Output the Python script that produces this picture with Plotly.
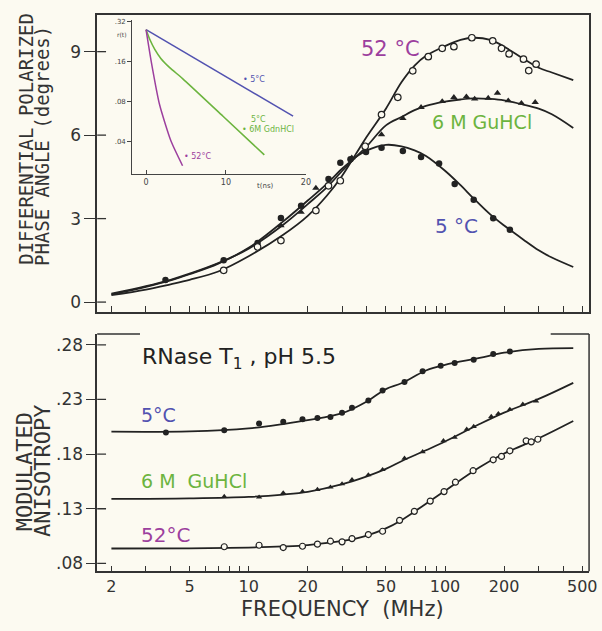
import math
import plotly.graph_objects as go

W, H = 602, 631
BG = "#fcfaf1"
INK = "#222222"
BLUE = "#5252b0"
GREEN = "#6cb43f"
PURPLE = "#9c3f9e"

# ---------------- data: top panel (phase angle, degrees) ----------------
F_CURVE = [2, 3, 4, 5, 7, 10, 15, 20, 25, 30, 35, 40, 50, 60, 70, 80, 100, 120, 140, 170, 200, 250, 300, 350, 450]
TOP_5C_CURVE = [0.28, 0.55, 0.78, 1.0, 1.38, 1.95, 2.9, 3.65, 4.25, 4.8, 5.2, 5.45, 5.65, 5.6, 5.45, 5.25, 4.72, 4.2, 3.72, 3.15, 2.75, 2.25, 1.86, 1.6, 1.26]
TOP_6M_CURVE = [0.3, 0.57, 0.8, 1.02, 1.4, 1.92, 2.78, 3.52, 4.12, 4.72, 5.2, 5.6, 6.35, 6.65, 6.9, 7.05, 7.2, 7.28, 7.32, 7.3, 7.25, 7.1, 6.95, 6.75, 6.26]
TOP_52C_CURVE = [0.25, 0.45, 0.64, 0.8, 1.1, 1.65, 2.42, 3.1, 3.82, 4.55, 5.3, 5.95, 6.95, 7.9, 8.5, 8.85, 9.2, 9.42, 9.5, 9.42, 9.18, 8.75, 8.42, 8.25, 7.98]

TOP_5C_F = [3.77, 7.46, 11.1, 14.6, 18.5, 25.5, 29.3, 33, 39.6, 47.5, 61, 75.5, 93.3, 112, 140, 176, 214]
TOP_5C_Y = [0.79, 1.5, 2.12, 3.02, 3.46, 4.42, 5.01, 5.13, 5.39, 5.55, 5.43, 5.21, 4.98, 4.24, 3.68, 3.01, 2.6]
TOP_6M_F = [14.6, 18.5, 22, 33.5, 47.5, 61, 75.5, 96.8, 111, 128.5, 141.6, 166, 185, 210, 245, 288]
TOP_6M_Y = [2.75, 3.23, 4.1, 5.19, 6.02, 6.6, 7.0, 7.21, 7.36, 7.38, 7.3, 7.33, 7.51, 7.24, 7.15, 7.18]
TOP_52C_F = [7.46, 11.1, 14.6, 22, 25.5, 29.3, 39.2, 47.5, 57.5, 68.5, 82.2, 96.8, 111, 137, 175, 194, 212, 251, 267, 291]
TOP_52C_Y = [1.14, 1.98, 2.21, 3.29, 4.18, 4.36, 5.6, 6.74, 7.36, 8.31, 8.82, 9.12, 9.18, 9.5, 9.39, 9.12, 8.92, 8.73, 8.32, 8.55]

# ---------------- data: bottom panel (modulated anisotropy) ----------------
FB_CURVE = [2, 5, 10, 15, 20, 30, 40, 50, 60, 80, 100, 150, 200, 300, 450]
BOT_5C_CURVE = [0.2005, 0.2008, 0.2035, 0.2075, 0.211, 0.2175, 0.2282, 0.2395, 0.2448, 0.2565, 0.2617, 0.268, 0.2728, 0.2762, 0.277]
BOT_6M_CURVE = [0.139, 0.1395, 0.1408, 0.143, 0.1455, 0.1525, 0.1597, 0.1665, 0.1735, 0.1835, 0.1915, 0.2075, 0.218, 0.2305, 0.2452]
BOT_52C_CURVE = [0.0936, 0.0938, 0.0945, 0.0955, 0.0968, 0.1005, 0.1055, 0.112, 0.1195, 0.1345, 0.1465, 0.168, 0.1805, 0.1945, 0.2103]

BOT_5C_F = [3.79, 7.51, 11.3, 15.0, 18.8, 22.4, 26.1, 29.9, 33.6, 40.7, 48.1, 62.2, 76.9, 95.1, 112, 140, 176, 214]
BOT_5C_Y = [0.1997, 0.2018, 0.2079, 0.2097, 0.2118, 0.213, 0.2139, 0.2179, 0.2224, 0.229, 0.2382, 0.246, 0.2557, 0.2609, 0.2633, 0.2664, 0.2715, 0.2739]
BOT_6M_F = [7.51, 11.3, 15.0, 18.8, 22.4, 26.1, 29.9, 33.6, 40.7, 48.1, 62.2, 76.9, 98.2, 112, 129, 140, 172, 187, 214, 249, 291]
BOT_6M_Y = [0.1412, 0.1406, 0.1445, 0.1457, 0.1475, 0.1497, 0.1527, 0.1566, 0.1609, 0.1657, 0.1761, 0.1821, 0.1921, 0.1952, 0.2027, 0.2052, 0.2143, 0.217, 0.2209, 0.2255, 0.2285]
BOT_52C_F = [7.51, 11.3, 15.0, 18.8, 22.4, 26.1, 29.9, 33.6, 40.7, 48.1, 58.7, 69.8, 84.1, 98.9, 113, 139, 176, 194, 214, 259, 275, 297]
BOT_52C_Y = [0.0952, 0.0966, 0.0945, 0.0957, 0.0976, 0.1003, 0.0997, 0.1027, 0.1064, 0.1094, 0.1194, 0.1276, 0.137, 0.1457, 0.1543, 0.1648, 0.1748, 0.1779, 0.183, 0.1921, 0.1912, 0.1936]

# ---------------- data: inset r(t) ----------------
INSET_5C_T = [0, 18.4]
INSET_5C_R = [0.279, 0.0617]
INSET_6M_T = [0, 0.49, 1.11, 1.85, 2.96, 4.57, 9.63, 14.8]
INSET_6M_R = [0.279, 0.234, 0.197, 0.169, 0.144, 0.119, 0.0617, 0.0314]
INSET_52C_T = [0, 0.65, 1.69, 3.12, 4.57]
INSET_52C_R = [0.279, 0.16, 0.0756, 0.040, 0.026]

# ---------------- ticks ----------------
X_TICKS = [2, 3, 4, 5, 6, 7, 8, 9, 10, 20, 30, 40, 50, 60, 70, 80, 90, 100, 200, 300, 400, 500]
X_LABELED = {2: "2", 5: "5", 10: "10", 20: "20", 50: "50", 100: "100", 200: "200", 500: "500"}
TOP_YTICKS = [0, 3, 6, 9]
BOT_YTICKS = [0.08, 0.13, 0.18, 0.23, 0.28]
BOT_YTEXT = [".08", ".13", ".18", ".23", ".28"]
INSET_XTICKS = [0, 10, 20]
INSET_YTICKS = [0.04, 0.08, 0.16, 0.32]
INSET_YTEXT = [".04", ".08", ".16", ".32"]


def px(x):
    return x / W


def py(y):
    return 1 - y / H


fig = go.Figure()

curve_style = dict(color=INK, width=1.8, shape="spline", smoothing=1.0)
for yv in (TOP_5C_CURVE, TOP_6M_CURVE, TOP_52C_CURVE):
    fig.add_trace(go.Scatter(x=F_CURVE, y=yv, mode="lines", line=curve_style,
                             xaxis="x", yaxis="y", hoverinfo="skip", showlegend=False))
for yv in (BOT_5C_CURVE, BOT_6M_CURVE, BOT_52C_CURVE):
    fig.add_trace(go.Scatter(x=FB_CURVE, y=yv, mode="lines", line=curve_style,
                             xaxis="x2", yaxis="y2", hoverinfo="skip", showlegend=False))

filled = dict(symbol="circle", size=6.5, color=INK, line=dict(width=0))
tri = dict(symbol="triangle-up", size=6.5, color=INK, line=dict(width=0))
opn = dict(symbol="circle", size=6.5, color=BG, line=dict(width=1.2, color=INK))

fig.add_trace(go.Scatter(x=TOP_5C_F, y=TOP_5C_Y, mode="markers", marker=filled, xaxis="x", yaxis="y", showlegend=False))
fig.add_trace(go.Scatter(x=TOP_6M_F, y=TOP_6M_Y, mode="markers", marker=tri, xaxis="x", yaxis="y", showlegend=False))
fig.add_trace(go.Scatter(x=TOP_52C_F, y=TOP_52C_Y, mode="markers", marker=opn, xaxis="x", yaxis="y", showlegend=False))
fig.add_trace(go.Scatter(x=BOT_5C_F, y=BOT_5C_Y, mode="markers", marker=dict(filled, size=6), xaxis="x2", yaxis="y2", showlegend=False))
fig.add_trace(go.Scatter(x=BOT_6M_F, y=BOT_6M_Y, mode="markers", marker=dict(tri, size=5.5), xaxis="x2", yaxis="y2", showlegend=False))
fig.add_trace(go.Scatter(x=BOT_52C_F, y=BOT_52C_Y, mode="markers", marker=dict(opn, size=6), xaxis="x2", yaxis="y2", showlegend=False))

# inset
fig.add_trace(go.Scatter(x=INSET_5C_T, y=INSET_5C_R, mode="lines", line=dict(color=BLUE, width=1.5),
                         xaxis="x3", yaxis="y3", showlegend=False))
fig.add_trace(go.Scatter(x=INSET_6M_T, y=INSET_6M_R, mode="lines", line=dict(color=GREEN, width=1.6, shape="spline", smoothing=0.6),
                         xaxis="x3", yaxis="y3", showlegend=False))
fig.add_trace(go.Scatter(x=INSET_52C_T, y=INSET_52C_R, mode="lines", line=dict(color=PURPLE, width=1.5, shape="spline", smoothing=0.6),
                         xaxis="x3", yaxis="y3", showlegend=False))

XR = [0.2286, 2.7337]
XDOM = [px(98.5), px(597)]
tickfont = dict(family="DejaVu Sans", size=16, color="#333")

xcommon = dict(type="log", range=XR, domain=XDOM, tickmode="array", tickvals=X_TICKS,
               ticks="inside", ticklen=6, tickwidth=1.3, tickcolor="#333",
               showline=True, linecolor="#333", linewidth=1.5, showgrid=False, zeroline=False)

fig.update_layout(
    width=W, height=H, margin=dict(l=0, r=0, t=0, b=0),
    paper_bgcolor=BG, plot_bgcolor=BG, showlegend=False,
    xaxis=dict(xcommon, anchor="y", showticklabels=False, mirror=True),
    yaxis=dict(range=[-0.357, 10.32], domain=[py(312), py(13)], anchor="x",
               tickmode="array", tickvals=TOP_YTICKS, ticks="outside", ticklen=11, tickwidth=1.3,
               tickcolor="#333", tickfont=dict(tickfont, size=17), showline=True, linecolor="#333",
               linewidth=1.5, mirror=True, showgrid=False, zeroline=False),
    xaxis2=dict(xcommon, anchor="y2", ticktext=[X_LABELED.get(v, "") for v in X_TICKS],
                tickfont=tickfont, showticklabels=True),
    yaxis2=dict(range=[0.0727, 0.29], domain=[py(573), py(334)], anchor="x2",
                tickmode="array", tickvals=BOT_YTICKS, ticktext=BOT_YTEXT, ticks="outside", ticklen=9,
                tickwidth=1.3, tickcolor="#333", tickfont=dict(tickfont, size=17), showline=True,
                linecolor="#333", linewidth=1.5, showgrid=False, zeroline=False),
    xaxis3=dict(range=[-1.73, 20], domain=[px(134), px(310)], anchor="y3", tickmode="array",
                tickvals=INSET_XTICKS, ticks="inside", ticklen=4, tickcolor="#444",
                tickfont=dict(family="DejaVu Sans", size=8, color="#444"), showline=True,
                linecolor="#444", linewidth=1, showgrid=False, zeroline=False),
    yaxis3=dict(type="log", range=[math.log10(0.02256), math.log10(0.331)], domain=[py(173), py(18)],
                anchor="x3", tickmode="array", tickvals=INSET_YTICKS, ticktext=INSET_YTEXT,
                ticks="outside", ticklen=4, tickcolor="#444",
                tickfont=dict(family="DejaVu Sans", size=7, color="#444"), showline=True,
                linecolor="#444", linewidth=1, showgrid=False, zeroline=False),
)

# inner halves of the crossing y ticks, frame pieces of bottom panel
shapes = []
for v in TOP_YTICKS:
    shapes.append(dict(type="line", xref="x domain", yref="y", x0=0, x1=0.018, y0=v, y1=v,
                       line=dict(color="#333", width=1.3)))
for v in BOT_YTICKS:
    shapes.append(dict(type="line", xref="x2 domain", yref="y2", x0=0, x1=0.018, y0=v, y1=v,
                       line=dict(color="#333", width=1.3)))
shapes.append(dict(type="line", xref="x2 domain", yref="y2 domain", x0=1, x1=1, y0=0, y1=1,
                   line=dict(color="#333", width=1.5)))
shapes.append(dict(type="line", xref="x2 domain", yref="y2 domain", x0=0, x1=0.087, y0=1, y1=1,
                   line=dict(color="#333", width=1.5)))
shapes.append(dict(type="line", xref="x2 domain", yref="y2 domain", x0=0.922, x1=1, y0=1, y1=1,
                   line=dict(color="#333", width=1.5)))
fig.update_layout(shapes=shapes)


def label(text, x, y, size, color, family="DejaVu Sans", angle=0, xanchor="left"):
    fig.add_annotation(text=text, x=px(x), y=py(y), xref="paper", yref="paper", showarrow=False,
                       xanchor=xanchor, yanchor="middle", textangle=angle,
                       font=dict(family=family, size=size, color=color))


MONO = "DejaVu Sans Mono"
label("DIFFERENTIAL POLARIZED", 26, 138, 19, "#333", MONO, -90, "center")
label("PHASE ANGLE (degrees)", 42.5, 145, 19, "#333", MONO, -90, "center")
label("MODULATED", 24.5, 473, 22, "#333", MONO, -90, "center")
label("ANISOTROPY", 42.5, 472, 22, "#333", MONO, -90, "center")
label("FREQUENCY  (MHz)", 347, 611, 21, "#333", "DejaVu Sans", 0, "center")

label("52 °C", 364, 47, 21, PURPLE)
label("6 M GuHCl", 436, 121, 19, GREEN)
label("5 °C", 439, 225, 20, BLUE)

label("RNase T<sub>1</sub> , pH 5.5", 142, 359, 22, "#222")
label("5°C", 141, 416, 19, BLUE)
label("6 M  GuHCl", 141, 482, 19, GREEN)
label("52°C", 141, 536, 20, PURPLE)

label("r(t)", 117, 33, 6, "#444")
label("t(ns)", 258, 185, 7, "#444")
label("• 5°C", 244, 78, 8, BLUE)
label("5°C", 252, 118, 8, GREEN)
label("• 6M GdnHCl", 243, 128, 8, GREEN)
label("• 52°C", 184, 155, 8, PURPLE)

fig.write_html("out.html", config={"displayModeBar": False},
               post_script="document.body.style.margin='0';")
